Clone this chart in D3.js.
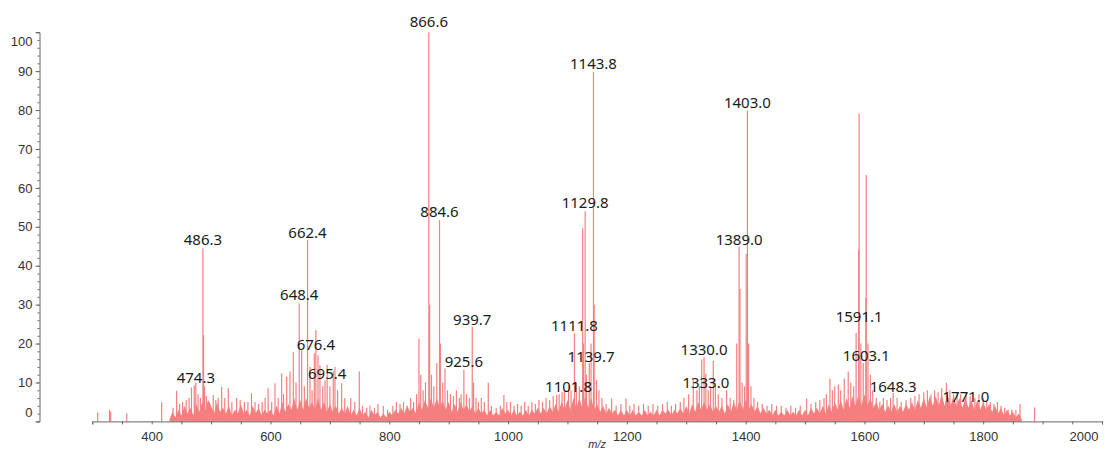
<!DOCTYPE html>
<html>
<head>
<meta charset="utf-8">
<script src="https://cdn.jsdelivr.net/npm/d3@7"></script>
<style>
  body { margin: 0; background: #fff; }
  svg { display: block; }
</style>
</head>
<body>
<svg id="chart"></svg>
<script>
// labelled peaks + other visible sticks (m/z, relative intensity %)
const peakMz = [
  309, 329, 331, 358, 416.8, 436, 442, 447, 452, 458, 463, 467, 471.7, 474.3, 478, 482, 486.3, 487.3, 489, 492, 497,
  503.7, 508, 512, 517.8, 523, 529, 535, 543, 549, 556, 562, 568, 574, 580, 586, 591, 596, 602, 607.6, 613,
  618.8, 622, 627.3, 632.8, 638.4, 643, 648.4, 652.5, 657, 662.4, 666.5, 670, 673.8, 676.4, 680, 683.3, 688,
  691.8, 695.4, 700, 705.7, 708.6, 713, 719.8, 725, 735, 742, 749.5, 755, 762, 767.5, 775, 781, 789.9, 797,
  806, 812, 818, 824, 830, 836, 841, 846, 850, 853, 857, 861, 866.6, 868, 871, 875, 880, 884.6, 886, 890,
  893.8, 898, 903, 908, 913, 918, 921, 925.6, 930, 935, 939.7, 942, 946, 950, 955, 960, 966.7, 972, 980, 987, 993, 998,
  1004, 1010, 1016, 1022, 1028, 1034, 1040, 1046, 1052, 1058, 1064, 1070, 1076, 1081.8, 1086, 1091, 1095,
  1101.8, 1106, 1111.8, 1115, 1120, 1125.6, 1127, 1129.8, 1132, 1136.7, 1139.7, 1143.8, 1145, 1149, 1153, 1158,
  1165, 1174.4, 1182, 1190, 1198.5, 1205, 1212, 1220, 1228, 1236, 1244, 1252, 1260, 1268, 1275, 1282, 1290, 1296,
  1304, 1311.8, 1318, 1322, 1326, 1330, 1333, 1337, 1341, 1345.5, 1349, 1354, 1360, 1368, 1374, 1380, 1385,
  1389, 1390.5, 1394, 1398, 1401, 1403, 1405, 1409, 1414, 1420,
  1428, 1436, 1444, 1452, 1460, 1468, 1476, 1484, 1492, 1502.7, 1510, 1518, 1525, 1532, 1536, 1541.9, 1546,
  1550, 1556, 1560, 1566, 1572.7, 1577, 1582, 1586, 1590.4, 1591.1, 1594, 1598, 1602.4, 1603.1, 1606, 1610,
  1614, 1620, 1626, 1632, 1638, 1644, 1648.3, 1655, 1662, 1670, 1678, 1685, 1692, 1700, 1706, 1712, 1718,
  1724, 1730, 1738, 1744, 1750, 1756, 1762, 1771, 1778, 1786, 1793, 1800, 1806, 1812, 1818, 1824, 1830,
  1836, 1842, 1848, 1855, 1862, 1886.5
];
const peakInt = [
  2.3, 3.0, 2.5, 2.1, 4.9, 3.5, 7.9, 4.5, 5, 5.5, 6, 8.7, 9.2, 10, 7, 6, 44.5, 22.2, 9, 6.5, 5,
  6.8, 5.5, 6, 8.9, 6, 8.5, 5, 6, 5.5, 5, 5, 7.2, 5, 4.5, 5, 6, 8.5, 5, 9.8, 6,
  12.3, 7, 11.5, 12.8, 17.9, 10, 30.3, 18.3, 9, 46.6, 14, 8, 17.5, 23.5, 17, 14.4, 9,
  10.6, 14.5, 9, 13, 14, 8, 9.8, 6, 6, 5, 12.8, 4, 3.5, 4, 3.5, 4.5, 4, 3,
  4, 5, 4.5, 5, 4, 6, 5, 7, 21.3, 12, 8, 10, 100, 30, 12, 9, 15, 51.7, 20, 10,
  13.6, 8, 7, 6.5, 8, 6, 7, 13.2, 7, 6, 24.3, 10, 6, 5, 6, 5, 10, 4, 3.5, 4, 6.8, 5,
  5, 4, 4.5, 4, 5, 4, 5, 4.5, 5.5, 5, 6, 5.5, 6.5, 6.8, 7, 7.5, 8,
  9.3, 8, 22.6, 10, 9, 49.6, 20, 54, 12, 15, 20, 89.8, 30, 10.6, 8, 6,
  4.5, 5.9, 4, 4.5, 5.9, 4, 4.5, 4, 4.5, 4, 4.5, 4, 4.5, 5, 4, 4.5, 5, 6,
  7, 10.6, 8, 9, 15.9, 16.5, 12.3, 8, 9, 15.6, 9, 7, 6, 8, 6, 5.5, 20,
  44.9, 34, 10, 9, 43, 79.8, 20, 9, 6, 5,
  4.5, 4, 4.5, 4, 4, 3.5, 4, 3.5, 4, 5.9, 4.5, 5, 5.5, 6, 7, 11, 8,
  9, 9.5, 8, 11, 12.8, 10, 9, 22.7, 44, 79.1, 20, 15, 31.7, 63.3, 20, 12,
  8, 6, 5, 6, 5.5, 6, 7.3, 6, 5, 5.5, 6, 6.5, 7, 7.5, 8, 7, 8,
  7.5, 8.5, 9.9, 8, 7, 7.5, 7, 7.5, 6.5, 6, 7, 6, 5, 5, 4.5, 5, 4,
  3.5, 3, 3, 2.9, 4.5, 3.6
];

// dense baseline forest, one reading every 5 m/z from 430 to 1865
const noiseMz = d3.range(430, 1866, 5);
const noiseInt = [
  0.5, 2.5, 1, 3, 1.5, 4, 2, 3.5, 1.5, 4.5, 2.5, 5, 3, 5.5,
  4, 2, 5, 2.5, 3.5, 2, 4, 1.5, 3, 2, 4.5, 2, 3, 1.5, 4, 2, 3.5, 1.5, 3, 2,
  3, 1.5, 4, 2, 5, 2.5, 4.5, 3, 6, 3, 5.5, 3, 6, 3.5, 5, 3, 6, 3, 5, 2.5,
  4.5, 2.5, 4, 2, 3.5, 2, 4, 1.5, 3, 1.5, 3.5, 1.5, 2.5, 1, 3, 1.5, 2.5, 1, 2, 1,
  2.5, 1.5, 3, 2, 3.5, 2, 4, 2.5, 3.5, 2, 5, 3, 5.5, 3.5, 6, 3.5, 6, 3.5, 5.5, 3,
  5, 2.5, 4.5, 2.5, 5, 3, 4.5, 2.5, 4, 2, 3.5, 2, 3, 1.5, 3, 1.5, 2.5, 1.5, 3.5, 2,
  3, 1.5, 3, 1.5, 2.5, 1.5, 3, 1.5, 3, 2, 3.5, 2, 3.5, 2, 4, 2.5, 4.5, 2.5, 5, 3,
  5.5, 3, 6, 3.5, 6, 3.5, 6.5, 3.5, 6, 3, 4.5, 2.5, 4, 2, 3.5, 2, 3, 1.5, 3, 1.5,
  3, 1.5, 3, 1.5, 2.5, 1.5, 3, 1.5, 2.5, 1.5, 3, 1.5, 3, 2, 3, 1.5, 3, 2, 3.5, 2,
  4, 2, 4.5, 2.5, 5, 3, 5, 3, 4.5, 2.5, 4, 2.5, 4, 2, 4.5, 2.5, 5, 3, 5.5, 3,
  5.5, 3, 4.5, 2.5, 4, 2, 3.5, 2, 3, 1.5, 3, 1.5, 2.5, 1.5, 3, 1.5, 2.5, 1.5, 3, 1.5,
  3, 1.5, 3.5, 2, 3.5, 2, 4, 2, 4.5, 2.5, 5, 3, 5.5, 3, 6, 3.5, 6.5, 4, 7, 4,
  7, 4, 6, 3.5, 5, 3, 4.5, 2.5, 4, 2.5, 4.5, 2.5, 4, 2.5, 4.5, 3, 5, 3, 5.5, 3.5,
  6, 3.5, 6.5, 4, 6.5, 4, 7, 4, 7, 4, 6.5, 4, 6, 3.5, 6, 3.5, 5.5, 3, 5.5, 3,
  5, 3, 4.5, 2.5, 4, 2, 3.5, 1.5, 3, 1.5, 2.5, 1, 2, 0.5
];

// annotation text and the height (in % units) where each label sits
const labelText = ['866.6', '1143.8', '1403.0', '884.6', '1129.8', '486.3', '662.4', '1389.0', '648.4', '939.7',
  '1591.1', '1111.8', '676.4', '1330.0', '1603.1', '1139.7', '925.6', '695.4', '474.3', '1333.0', '1101.8',
  '1648.3', '1771.0'];
const labelLevel = [102.8, 91.8, 81.8, 53.8, 56.1, 46.6, 48.4, 46.6, 32.5, 26.0,
  26.8, 24.5, 19.8, 18.4, 16.8, 16.7, 15.3, 12.2, 11.2, 9.9, 8.8,
  8.8, 6.4];

const yTicks = [0, 10, 20, 30, 40, 50, 60, 70, 80, 90, 100];
const xTicks = [400, 600, 800, 1000, 1200, 1400, 1600, 1800, 2000];

const width = 1105, height = 461;
const svg = d3.select('#chart').attr('width', width).attr('height', height);

const x = d3.scaleLinear().domain([300, 2000]).range([92.3, 1102]);
const y = d3.scaleLinear().domain([0, 100]).range([421.4, 32.2]);

// noise floor
const area = d3.area()
  .x((d, i) => x(noiseMz[i]))
  .y0(y(0))
  .y1(d => y(d));
svg.append('path')
  .datum(noiseInt)
  .attr('d', area)
  .attr('fill', '#f47070')
  .attr('opacity', 0.9);

// sticks
svg.append('g')
  .selectAll('line')
  .data(peakMz)
  .join('line')
  .attr('x1', d => x(d))
  .attr('x2', d => x(d))
  .attr('y1', y(0))
  .attr('y2', (d, i) => y(peakInt[i]))
  .attr('stroke', '#f38080')
  .attr('stroke-width', 1.2);

// y axis
const yAxis = svg.append('g')
  .attr('transform', 'translate(39.5,0)')
  .call(d3.axisLeft(y).tickValues(yTicks).tickSize(4).tickSizeOuter(3).tickPadding(3));
svg.append('g')
  .attr('transform', 'translate(39.5,0)')
  .call(d3.axisLeft(y).tickValues(d3.range(0, 101, 2)).tickSize(2).tickFormat(''))
  .call(g => g.select('.domain').remove());

yAxis.selectAll('text')
  .attr('dy', d => d === 100 ? '1.0em' : d === 0 ? '-0.35em' : '0.32em');

// x axis
const xAxis = svg.append('g')
  .attr('transform', `translate(0,${y(0)})`)
  .call(d3.axisBottom(x).tickValues(d3.range(300, 2001, 50)).tickSize(3).tickSizeOuter(3)
    .tickFormat(d => xTicks.includes(d) ? d : ''));

svg.selectAll('.domain, .tick line').attr('stroke', '#666');
svg.selectAll('.tick text')
  .attr('fill', '#333')
  .style('font-family', '"Liberation Sans", Arial, sans-serif')
  .style('font-size', '13px');
xAxis.selectAll('text')
  .attr('dy', '1.05em')
  .attr('text-anchor', d => d === 2000 ? 'end' : 'middle')
  .attr('dx', d => d === 2000 ? '-4' : '0');

svg.append('text')
  .attr('x', (x.range()[0] + x.range()[1]) / 2)
  .attr('y', 448)
  .attr('text-anchor', 'middle')
  .style('font-family', '"Liberation Sans", Arial, sans-serif')
  .style('font-size', '11px')
  .style('font-style', 'italic')
  .attr('fill', '#333')
  .text('m/z');

// peak labels, centred on their m/z
svg.append('g')
  .selectAll('text')
  .data(labelText)
  .join('text')
  .attr('x', d => x(+d))
  .attr('y', (d, i) => y(labelLevel[i]))
  .attr('dy', '0.35em')
  .attr('text-anchor', 'middle')
  .style('font-family', '"Noto Sans", "Open Sans", sans-serif')
  .style('font-size', '15px')
  .attr('fill', '#1a1a1a')
  .text(d => d);
</script>
</body>
</html>
